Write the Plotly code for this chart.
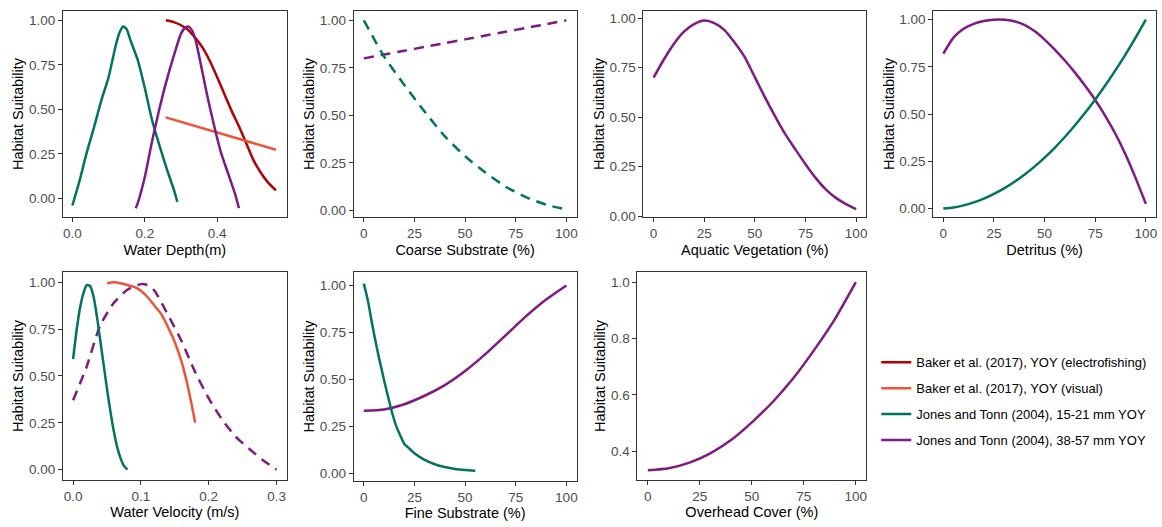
import plotly.graph_objects as go

# ---- series colours / names ----
C_EF = "#B40000"      # Baker et al. electrofishing
C_VIS = "#EE5338"     # Baker et al. visual
C_SM = "#00745E"      # Jones & Tonn 15-21 mm
C_LG = "#7E1A82"      # Jones & Tonn 38-57 mm

NAME_EF = "Baker et al. (2017), YOY (electrofishing)"
NAME_VIS = "Baker et al. (2017), YOY (visual)"
NAME_SM = "Jones and Tonn (2004), 15-21 mm YOY"
NAME_LG = "Jones and Tonn (2004), 38-57 mm YOY"

# ---- Water depth (m) ----
depth_sm_x = [0.0, 0.02, 0.04, 0.06, 0.08, 0.10, 0.12, 0.13, 0.14, 0.15, 0.16, 0.18, 0.20, 0.22, 0.24, 0.26, 0.28, 0.29]
depth_sm_y = [-0.04, 0.10, 0.26, 0.40, 0.55, 0.68, 0.86, 0.93, 0.965, 0.95, 0.89, 0.78, 0.62, 0.44, 0.30, 0.17, 0.05, -0.02]
depth_lg_x = [0.175, 0.18, 0.20, 0.22, 0.24, 0.26, 0.28, 0.30, 0.31, 0.32, 0.33, 0.34, 0.35, 0.37, 0.39, 0.41, 0.43, 0.45, 0.46]
depth_lg_y = [-0.055, -0.03, 0.12, 0.32, 0.50, 0.66, 0.80, 0.925, 0.955, 0.965, 0.945, 0.89, 0.80, 0.60, 0.42, 0.26, 0.14, 0.02, -0.055]
depth_ef_x = [0.258, 0.28, 0.30, 0.32, 0.34, 0.36, 0.38, 0.40, 0.42, 0.44, 0.46, 0.48, 0.50, 0.52, 0.54, 0.562]
depth_ef_y = [1.0, 0.99, 0.972, 0.945, 0.90, 0.845, 0.77, 0.68, 0.585, 0.49, 0.405, 0.31, 0.215, 0.145, 0.09, 0.045]
depth_vis_x = [0.258, 0.562]
depth_vis_y = [0.455, 0.273]

# ---- Coarse substrate (%) ----
coarse_x = [0, 10, 20, 30, 40, 50, 60, 70, 80, 90, 100]
coarse_sm_y = [1.0, 0.81, 0.66, 0.52, 0.39, 0.285, 0.20, 0.125, 0.07, 0.03, 0.005]
coarse_lg_y = [0.80, 0.82, 0.84, 0.86, 0.88, 0.90, 0.92, 0.94, 0.96, 0.98, 1.0]

# ---- Aquatic vegetation (%) ----
veg_x = [0, 5, 10, 15, 20, 25, 30, 35, 40, 45, 50, 55, 60, 65, 70, 75, 80, 85, 90, 95, 100]
veg_lg_y = [0.70, 0.79, 0.87, 0.932, 0.97, 0.988, 0.975, 0.94, 0.877, 0.803, 0.702, 0.60, 0.504,
            0.414, 0.337, 0.262, 0.193, 0.135, 0.092, 0.06, 0.035]

# ---- Detritus (%) ----
det_x = [0, 5, 10, 15, 20, 25, 30, 35, 40, 45, 50, 55, 60, 65, 70, 75, 80, 85, 90, 95, 100]
det_lg_y = [0.82, 0.905, 0.952, 0.978, 0.993, 1.0, 1.0, 0.992, 0.973, 0.94, 0.895, 0.842, 0.784,
            0.72, 0.65, 0.575, 0.49, 0.395, 0.285, 0.16, 0.025]
det_sm_y = [0.0, 0.006, 0.017, 0.033, 0.053, 0.078, 0.107, 0.141, 0.179, 0.222, 0.27, 0.322,
            0.379, 0.441, 0.507, 0.578, 0.653, 0.733, 0.817, 0.906, 1.0]

# ---- Water velocity (m/s) ----
vel_sm_x = [0.0, 0.005, 0.01, 0.015, 0.02, 0.025, 0.03, 0.035, 0.04, 0.045, 0.05, 0.055, 0.06, 0.065, 0.07, 0.075, 0.08]
vel_sm_y = [0.59, 0.74, 0.86, 0.94, 0.985, 0.98, 0.925, 0.82, 0.69, 0.56, 0.43, 0.31, 0.205, 0.12, 0.06, 0.02, 0.0]
vel_vis_x = [0.05, 0.06, 0.07, 0.08, 0.09, 0.10, 0.11, 0.12, 0.13, 0.14, 0.15, 0.16, 0.17, 0.18]
vel_vis_y = [0.995, 1.0, 0.995, 0.985, 0.975, 0.955, 0.92, 0.875, 0.83, 0.76, 0.68, 0.575, 0.43, 0.25]
vel_lg_x = [0.0, 0.02, 0.04, 0.06, 0.08, 0.10, 0.11, 0.12, 0.14, 0.16, 0.18, 0.20, 0.22, 0.24, 0.26, 0.28, 0.30]
vel_lg_y = [0.37, 0.55, 0.77, 0.89, 0.96, 0.99, 0.985, 0.955, 0.825, 0.685, 0.52, 0.38, 0.265, 0.175, 0.11, 0.05, 0.0]

# ---- Fine substrate (%) ----
fine_sm_x = [0, 2, 4, 6, 8, 10, 12, 14, 16, 18, 20, 22, 25, 30, 35, 40, 45, 50, 55]
fine_sm_y = [1.01, 0.92, 0.80, 0.69, 0.59, 0.495, 0.405, 0.32, 0.25, 0.20, 0.155, 0.135, 0.105,
             0.07, 0.047, 0.032, 0.022, 0.016, 0.012]
fine_lg_x = [0, 10, 20, 30, 40, 50, 60, 70, 80, 90, 100]
fine_lg_y = [0.332, 0.339, 0.367, 0.412, 0.469, 0.544, 0.634, 0.734, 0.835, 0.925, 1.0]

# ---- Overhead cover (%) ----
cover_x = [0, 10, 20, 30, 40, 50, 60, 70, 80, 90, 100]
cover_lg_y = [0.333, 0.34, 0.36, 0.393, 0.44, 0.503, 0.575, 0.66, 0.76, 0.87, 1.0]

# ---- panel definitions ----
W, H = 1162, 527
FONT = "Liberation Sans, Arial, sans-serif"
YTITLE = "Habitat Suitability"

# pixel boxes (left, right, top, bottom) of each plotting area
boxes = [
    (63, 287, 11, 220), (354, 577, 11, 220), (644, 867, 11, 220), (934, 1157, 11, 220),
    (63, 287, 276, 486), (354, 577, 276, 487), (638, 867, 276, 486),
]
xtitles = ["Water Depth(m)", "Coarse Substrate (%)", "Aquatic Vegetation (%)", "Detritus (%)",
           "Water Velocity (m/s)", "Fine Substrate (%)", "Overhead Cover (%)"]
xranges = [[-0.026, 0.592], [-5, 105], [-5, 105], [-5, 105], [-0.015, 0.315], [-5, 105], [-5, 105]]
yranges = [[-0.105, 1.053], [-0.035, 1.05], [-0.005, 1.037], [-0.045, 1.047], [-0.053, 1.053],
           [-0.04, 1.07], [0.30, 1.035]]
pct_ticks = [0, 25, 50, 75, 100]
quart_ticks = [0, 0.25, 0.5, 0.75, 1.0]
xticks = [([0, 0.2, 0.4], ".1f"), (pct_ticks, "d"), (pct_ticks, "d"), (pct_ticks, "d"),
          ([0, 0.1, 0.2, 0.3], ".1f"), (pct_ticks, "d"), (pct_ticks, "d")]
yticks = [(quart_ticks, ".2f")] * 6 + [([0.4, 0.6, 0.8, 1.0], ".1f")]

fig = go.Figure()

LW = 2.5
DASH = "10px,7px"


def add(i, x, y, color, name, dash="solid", legend=False):
    suffix = "" if i == 0 else str(i + 1)
    fig.add_trace(go.Scatter(
        x=x, y=y, mode="lines", name=name,
        line=dict(color=color, width=LW, dash=dash, shape="spline", smoothing=0.6),
        xaxis="x" + suffix, yaxis="y" + suffix,
        showlegend=legend, legendgroup=name, hoverinfo="skip",
    ))


# Water depth panel (also provides the legend entries)
add(0, depth_ef_x, depth_ef_y, C_EF, NAME_EF, legend=True)
add(0, depth_vis_x, depth_vis_y, C_VIS, NAME_VIS, legend=True)
add(0, depth_sm_x, depth_sm_y, C_SM, NAME_SM, legend=True)
add(0, depth_lg_x, depth_lg_y, C_LG, NAME_LG, legend=True)
# Coarse substrate
add(1, coarse_x, coarse_lg_y, C_LG, NAME_LG, dash=DASH)
add(1, coarse_x, coarse_sm_y, C_SM, NAME_SM, dash=DASH)
# Aquatic vegetation
add(2, veg_x, veg_lg_y, C_LG, NAME_LG)
# Detritus
add(3, det_x, det_lg_y, C_LG, NAME_LG)
add(3, det_x, det_sm_y, C_SM, NAME_SM)
# Water velocity
add(4, vel_lg_x, vel_lg_y, C_LG, NAME_LG, dash=DASH)
add(4, vel_vis_x, vel_vis_y, C_VIS, NAME_VIS)
add(4, vel_sm_x, vel_sm_y, C_SM, NAME_SM)
# Fine substrate
add(5, fine_lg_x, fine_lg_y, C_LG, NAME_LG)
add(5, fine_sm_x, fine_sm_y, C_SM, NAME_SM)
# Overhead cover
add(6, cover_x, cover_lg_y, C_LG, NAME_LG)

layout = dict(
    width=W, height=H,
    margin=dict(l=0, r=0, t=0, b=0),
    paper_bgcolor="white", plot_bgcolor="white",
    font=dict(family=FONT, size=13, color="black"),
    showlegend=True,
    legend=dict(
        x=877 / W, y=1 - 352 / H, xanchor="left", yanchor="top",
        bgcolor="rgba(0,0,0,0)", borderwidth=0,
        font=dict(family=FONT, size=13, color="black"),
        tracegroupgap=6, itemwidth=30,
    ),
)

for i, (l, r, t, b) in enumerate(boxes):
    suffix = "" if i == 0 else str(i + 1)
    xv, xf = xticks[i]
    yv, yf = yticks[i]
    axis_common = dict(
        showline=True, mirror=True, linecolor="#333333", linewidth=1,
        showgrid=False, zeroline=False,
        ticks="outside", ticklen=4, tickwidth=1, tickcolor="#333333",
        tickfont=dict(family=FONT, size=13.5, color="#4D4D4D"),
    )
    layout["xaxis" + suffix] = dict(
        axis_common, domain=[l / W, r / W], range=xranges[i],
        anchor="y" + suffix, tickvals=xv, tickformat=xf,
        title=dict(text=xtitles[i], font=dict(family=FONT, size=14.5, color="black"), standoff=4),
    )
    layout["yaxis" + suffix] = dict(
        axis_common, domain=[1 - b / H, 1 - t / H], range=yranges[i],
        anchor="x" + suffix, tickvals=yv, tickformat=yf,
        title=dict(text=YTITLE, font=dict(family=FONT, size=14.5, color="black"), standoff=1),
    )

fig.update_layout(**layout)
fig.write_html("out.html")
